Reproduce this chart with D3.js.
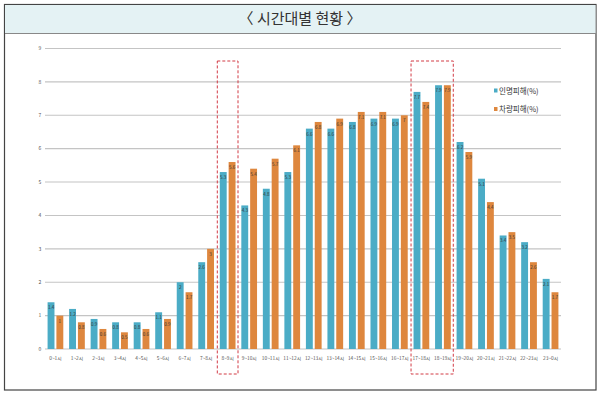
<!DOCTYPE html>
<html><head><meta charset="utf-8">
<script src="https://cdn.jsdelivr.net/npm/d3@7"></script>
<style>body{margin:0;background:#fff}svg{display:block}</style>
</head><body>
<svg id="c" width="600" height="394"></svg>
<script>
const categories = ["0~1시","1~2시","2~3시","3~4시","4~5시","5~6시","6~7시","7~8시","8~9시","9~10시","10~11시","11~12시","12~13시","13~14시","14~15시","15~16시","16~17시","17~18시","18~19시","19~20시","20~21시","21~22시","22~23시","23~0시"];
const personal = [1.4,1.2,0.9,0.8,0.8,1.1,2,2.6,5.3,4.3,4.8,5.3,6.6,6.6,6.8,6.9,6.9,7.7,7.9,6.2,5.1,3.4,3.2,2.1];
const vehicle  = [1,0.8,0.6,0.5,0.6,0.9,1.7,3,5.6,5.4,5.7,6.1,6.8,6.9,7.1,7.1,7,7.4,7.9,5.9,4.4,3.5,2.6,1.7];
const seriesNames = ["인명피해(%)","차량피해(%)"];
const yTicks = [0,1,2,3,4,5,6,7,8,9];
const highlights = [["8~9시"],["17~18시","18~19시"]];
const colors = ["#4bacc6","#de873e"];

const svg = d3.select("#c");
const font = "'Noto Sans CJK KR','Noto Sans',sans-serif";

// outer frame & title
svg.append("rect").attr("x",4.5).attr("y",4.5).attr("width",591.5).attr("height",385.5)
  .attr("fill","#fff").attr("stroke","#444").attr("stroke-width",1.2);
svg.append("rect").attr("x",5).attr("y",5).attr("width",590.5).attr("height",28)
  .attr("fill","#e4f2f4");
svg.append("line").attr("x1",5).attr("x2",596).attr("y1",33.5).attr("y2",33.5)
  .attr("stroke","#888").attr("stroke-width",1);
svg.append("text").attr("x",300).attr("y",24).attr("text-anchor","middle")
  .attr("font-family",font).attr("font-size",15).attr("fill","#333")
  .text("〈 시간대별 현황 〉");

const x = d3.scaleBand().domain(categories).range([45,561]).paddingInner(0.27).paddingOuter(0.12);
const y = d3.scaleLinear().domain([0,9]).range([349,48.5]);
const sub = d3.scaleBand().domain([0,1]).range([0,x.bandwidth()]).paddingInner(0.22);

// gridlines
svg.append("g").selectAll("line").data(yTicks).join("line")
  .attr("x1",45).attr("x2",561).attr("y1",d=>y(d)).attr("y2",d=>y(d))
  .attr("stroke","#c4c4c4").attr("stroke-width",1.1);
svg.append("g").selectAll("text").data(yTicks).join("text")
  .attr("x",40).attr("y",d=>y(d)+1.8).attr("text-anchor","middle")
  .attr("font-family",font).attr("font-size",5).attr("fill","#555").text(d=>d);

// bars
[personal,vehicle].forEach((vals,si)=>{
  const g = svg.append("g");
  g.selectAll("rect").data(vals).join("rect")
    .attr("x",(d,i)=>x(categories[i])+sub(si)).attr("width",sub.bandwidth())
    .attr("y",d=>y(d)).attr("height",d=>y(0)-y(d)).attr("fill",colors[si]);
  g.selectAll("text").data(vals).join("text")
    .attr("x",(d,i)=>x(categories[i])+sub(si)+sub.bandwidth()/2)
    .attr("y",d=>y(d)+7).attr("text-anchor","middle")
    .attr("font-family",font).attr("font-size",4.5).attr("fill","#333").text(d=>d);
});

// x labels
svg.append("g").selectAll("text").data(categories).join("text")
  .attr("x",d=>x(d)+x.bandwidth()/2).attr("y",360).attr("text-anchor","middle")
  .attr("font-family",font).attr("font-size",4.8).attr("fill","#555").text(d=>d);

// highlight boxes
highlights.forEach(h=>{
  const x0 = x(h[0]) - 2.5, x1 = x(h[h.length-1]) + x.bandwidth() + 2.5;
  svg.append("rect").attr("x",x0).attr("y",61).attr("width",x1-x0).attr("height",313)
    .attr("fill","none").attr("stroke","#d23a45").attr("stroke-width",1).attr("stroke-dasharray","3,2");
});

// legend
seriesNames.forEach((n,i)=>{
  const ly = 91 + i*18.5;
  svg.append("rect").attr("x",494).attr("y",ly-2.5).attr("width",3.5).attr("height",4).attr("fill",colors[i]);
  svg.append("text").attr("x",499).attr("y",ly+2.5).attr("font-family",font).attr("font-size",7.5)
    .attr("fill","#333").text(n);
});
</script>
</body></html>
